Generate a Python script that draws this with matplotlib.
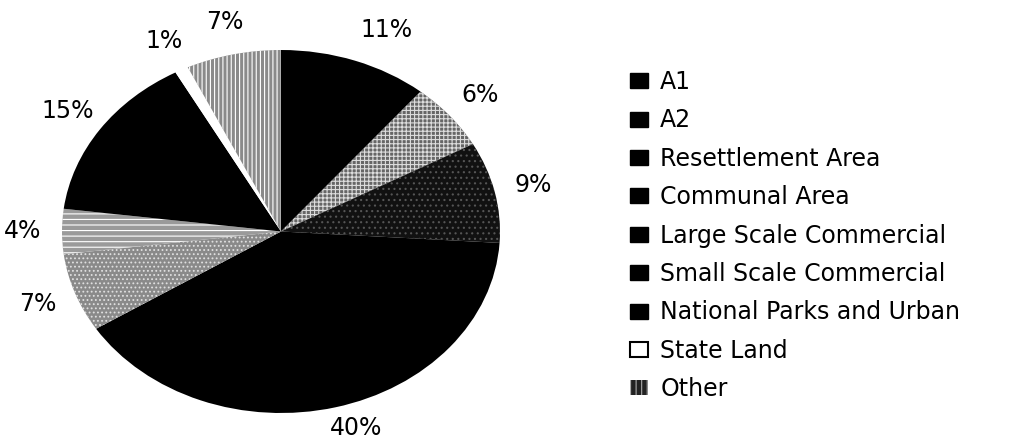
import matplotlib.pyplot as plt
from matplotlib.patches import Patch

plt.rcParams['font.family'] = ['DejaVu Sans']
plt.rcParams['hatch.linewidth'] = 0.8

labels = ['A1', 'A2', 'Resettlement Area', 'Communal Area', 'Large Scale Commercial',
          'Small Scale Commercial', 'National Parks and Urban', 'State Land', 'Other']
shares = [11, 6, 9, 40, 7, 4, 15, 1, 7]

# face, hatch colour, hatch pattern per slice (greyscale print look)
faces = ['black', '#666666', '#111111', 'black', '#8a8a8a', '#9a9a9a', 'black', 'white', '#8a8a8a']
hatch_cols = ['black', '#dddddd', '#555555', 'black', '#e0e0e0', 'white', 'black', 'white', 'white']
hatches = [None, '++++', '...', None, '....', '---', None, None, '||||']

fig = plt.figure(figsize=(10.22, 4.42), dpi=100)
# axes box = ellipse bounding box
ax = fig.add_axes([62 / 1022, 1 - 413 / 442, 438 / 1022, 363 / 442])

wedges, texts, autotexts = ax.pie(shares, startangle=90, counterclock=False, radius=1,
                                  autopct='%1.0f%%', pctdistance=1.18,
                                  textprops=dict(fontsize=17, color='black'))
ax.set_aspect('auto')
ax.set_xlim(-1, 1)
ax.set_ylim(-1, 1)
for w, fc, hc, h in zip(wedges, faces, hatch_cols, hatches):
    w.set_facecolor(fc)
    w.set_edgecolor(hc)
    w.set_linewidth(0)
    if h:
        w.set_hatch(h)
for t in autotexts:
    t.set_clip_on(False)
# keep the bottom label inside the picture
x40, y40 = autotexts[3].get_position()
autotexts[3].set_position((x40 + 0.05, y40 + 0.06))
x11, y11 = autotexts[0].get_position()
autotexts[0].set_position((x11 + 0.08, y11))

# legend swatches: all black except state land and other
handles = []
for lab in labels:
    if lab == 'State Land':
        handles.append(Patch(facecolor='white', edgecolor='black', linewidth=1.5, label=lab))
    elif lab == 'Other':
        handles.append(Patch(facecolor='#222222', edgecolor='#aaaaaa', hatch='|||', linewidth=0, label=lab))
    else:
        handles.append(Patch(facecolor='black', edgecolor='black', label=lab))

fig.legend(handles=handles, loc='upper left', bbox_to_anchor=(630 / 1022, 1 - 70 / 442),
           frameon=False, fontsize=17, handlelength=0.78, handleheight=0.6,
           handletextpad=0.5, labelspacing=0.61, borderaxespad=0, borderpad=0)

fig.savefig('out.png', dpi=100, facecolor='white')
